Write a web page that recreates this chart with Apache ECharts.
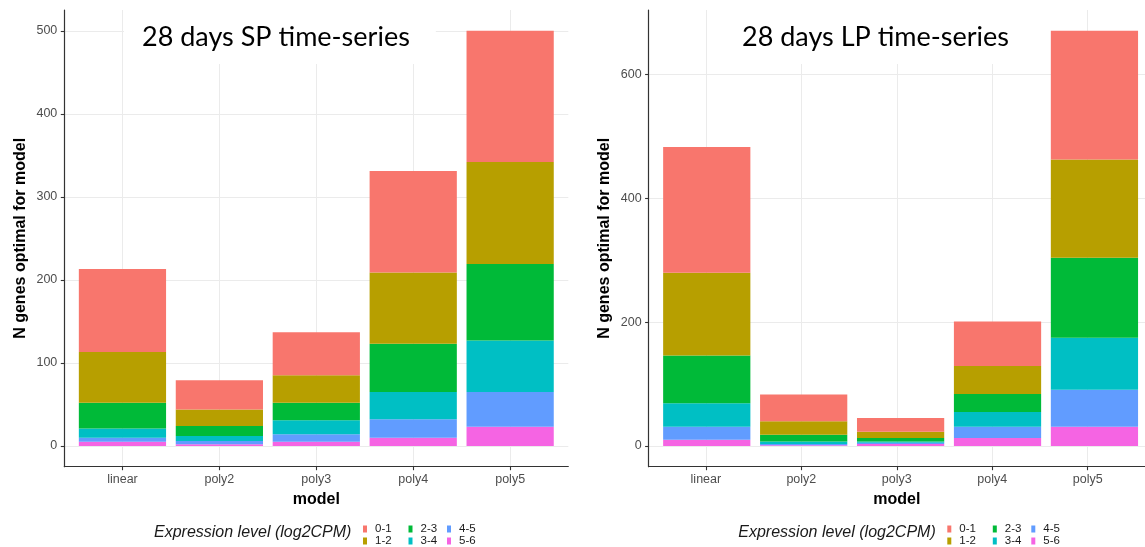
<!DOCTYPE html>
<html>
<head>
<meta charset="utf-8">
<script src="https://cdn.jsdelivr.net/npm/echarts@6/dist/echarts.min.js"></script>
<style>
  html, body { margin: 0; padding: 0; background: #fff; }
  #chart { width: 1145px; height: 547px; }
</style>
</head>
<body>
<div id="chart"></div>
<script>
// Model categories and expression-level bins (log2CPM)
const models = ['linear', 'poly2', 'poly3', 'poly4', 'poly5'];
const levels = ['0-1', '1-2', '2-3', '3-4', '4-5', '5-6'];
const levelColors = ['#F8766D', '#B79F00', '#00BA38', '#00BFC4', '#619CFF', '#F564E3'];

// 28 days SP time-series: genes per model, by expression level
const sp_0_1 = [100, 35, 52, 122, 158];
const sp_1_2 = [61, 20, 33, 86, 123];
const sp_2_3 = [31, 12, 21, 58, 92];
const sp_3_4 = [11, 6, 17, 33, 62];
const sp_4_5 = [5, 4, 9, 22, 42];
const sp_5_6 = [5, 2, 5, 10, 23];

// 28 days LP time-series: genes per model, by expression level
const lp_0_1 = [203, 43, 22, 72, 208];
const lp_1_2 = [134, 22, 10, 45, 159];
const lp_2_3 = [77, 11, 6, 29, 129];
const lp_3_4 = [38, 4, 2, 24, 84];
const lp_4_5 = [21, 2, 2, 18, 60];
const lp_5_6 = [10, 1, 3, 13, 31];

// Tick values
const spTicks = [0, 100, 200, 300, 400, 500];
const lpTicks = [0, 200, 400, 600];
const modelPositions = models.map((m, i) => i + 1);

const panels = [
  { title: '28 days SP time-series', data: [sp_0_1, sp_1_2, sp_2_3, sp_3_4, sp_4_5, sp_5_6], ticks: spTicks,
    left: 64.3, width: 504, titleLeft: 124 },
  { title: '28 days LP time-series', data: [lp_0_1, lp_1_2, lp_2_3, lp_3_4, lp_4_5, lp_5_6], ticks: lpTicks,
    left: 648.6, width: 504, titleLeft: 724 }
];

const FONT = '"Liberation Sans", Arial, Helvetica, sans-serif';
const TOP = 10, HEIGHT = 456.7;
const X_MIN = 0.4, X_MAX = 5.6;   // discrete scale padded by 0.6 on each side
const grids = [], xAxes = [], yAxes = [], series = [], titles = [], legends = [];

panels.forEach((p, pi) => {
  const totals = models.map((m, i) => p.data.reduce((s, arr) => s + arr[i], 0));
  const maxTotal = Math.max(...totals);
  const yMin = -0.05 * maxTotal, yMax = 1.05 * maxTotal;
  const unit = p.width / (X_MAX - X_MIN);

  // frame grid: axes, ticks, labels and grid lines over the full panel
  const frameIdx = grids.length;
  grids.push({ left: p.left, top: TOP, width: p.width, height: HEIGHT });
  xAxes.push({
    type: 'value', gridIndex: frameIdx, min: X_MIN, max: X_MAX,
    axisLine: { show: true, onZero: false, lineStyle: { color: '#333', width: 1.2 } },
    axisTick: { show: true, customValues: modelPositions, length: 3.5, lineStyle: { color: '#333', width: 1.1 } },
    axisLabel: { customValues: modelPositions, formatter: v => models[Math.round(v) - 1],
      color: '#4d4d4d', fontSize: 12.5, fontFamily: FONT, margin: 6 },
    splitLine: { show: true, lineStyle: { color: '#ebebeb', width: 1 } },
    name: 'model', nameLocation: 'middle', nameGap: 25,
    nameTextStyle: { fontWeight: 'bold', fontSize: 16, color: '#000', fontFamily: FONT }
  });
  yAxes.push({
    type: 'value', gridIndex: frameIdx, min: yMin, max: yMax,
    axisLine: { show: true, onZero: false, lineStyle: { color: '#333', width: 1.2 } },
    axisTick: { show: true, customValues: p.ticks, length: 3.5, lineStyle: { color: '#333', width: 1.1 } },
    axisLabel: { customValues: p.ticks, color: '#4d4d4d', fontSize: 12.5, fontFamily: FONT, margin: 7 },
    splitLine: { show: true, lineStyle: { color: '#ebebeb', width: 1 } },
    name: 'N genes optimal for model', nameLocation: 'middle', nameGap: 36,
    nameTextStyle: { fontWeight: 'bold', fontSize: 16, color: '#000', fontFamily: FONT }
  });

  // bar grid: category bands spanning positions 0.5 .. 5.5 of the frame
  const barIdx = grids.length;
  grids.push({ left: p.left + (0.5 - X_MIN) * unit, top: TOP, width: models.length * unit, height: HEIGHT });
  xAxes.push({ type: 'category', gridIndex: barIdx, data: models, show: false, boundaryGap: true });
  yAxes.push({ type: 'value', gridIndex: barIdx, min: yMin, max: yMax, show: false, splitLine: { show: false } });

  // stack from the highest bin at the bottom to 0-1 on top
  for (let li = levels.length - 1; li >= 0; li--) {
    series.push({
      type: 'bar', name: levels[li], xAxisIndex: barIdx, yAxisIndex: barIdx,
      stack: 'panel' + pi, barWidth: '90%',
      itemStyle: { color: levelColors[li] },
      emphasis: { disabled: true },
      data: p.data[li]
    });
  }

  titles.push({
    text: p.title, left: p.titleLeft, top: 0,
    padding: [24, 26, 13, 18], backgroundColor: '#fff',
    textStyle: { fontFamily: 'Lato, "Open Sans", sans-serif', fontSize: 27, fontWeight: 'normal', color: '#000' }
  });

  const dx = p.left - panels[0].left;
  titles.push({
    text: 'Expression level (log2CPM)', left: 154 + dx, top: 524.5, padding: 0,
    textStyle: { fontFamily: FONT, fontSize: 16, fontStyle: 'italic', fontWeight: 'normal', color: '#1a1a1a' }
  });

  const colX = [363, 408.5, 447];
  [[0, 1], [2, 3], [4, 5]].forEach((pair, ci) => {
    legends.push({
      orient: 'vertical', left: colX[ci] + dx, top: 523, height: 40, padding: 0,
      data: pair.map(k => levels[k]), icon: 'rect', itemWidth: 4, itemHeight: 7, itemGap: 0,
      selectedMode: false,
      textStyle: { fontFamily: FONT, fontSize: 11.5, lineHeight: 10, color: '#1a1a1a', padding: [0, 0, 0, 3] }
    });
  });
});

const chart = echarts.init(document.getElementById('chart'), null, { renderer: 'canvas' });
chart.setOption({
  backgroundColor: '#fff',
  animation: false,
  color: levelColors,
  title: titles,
  legend: legends,
  grid: grids,
  xAxis: xAxes,
  yAxis: yAxes,
  series: series
});
</script>
</body>
</html>
